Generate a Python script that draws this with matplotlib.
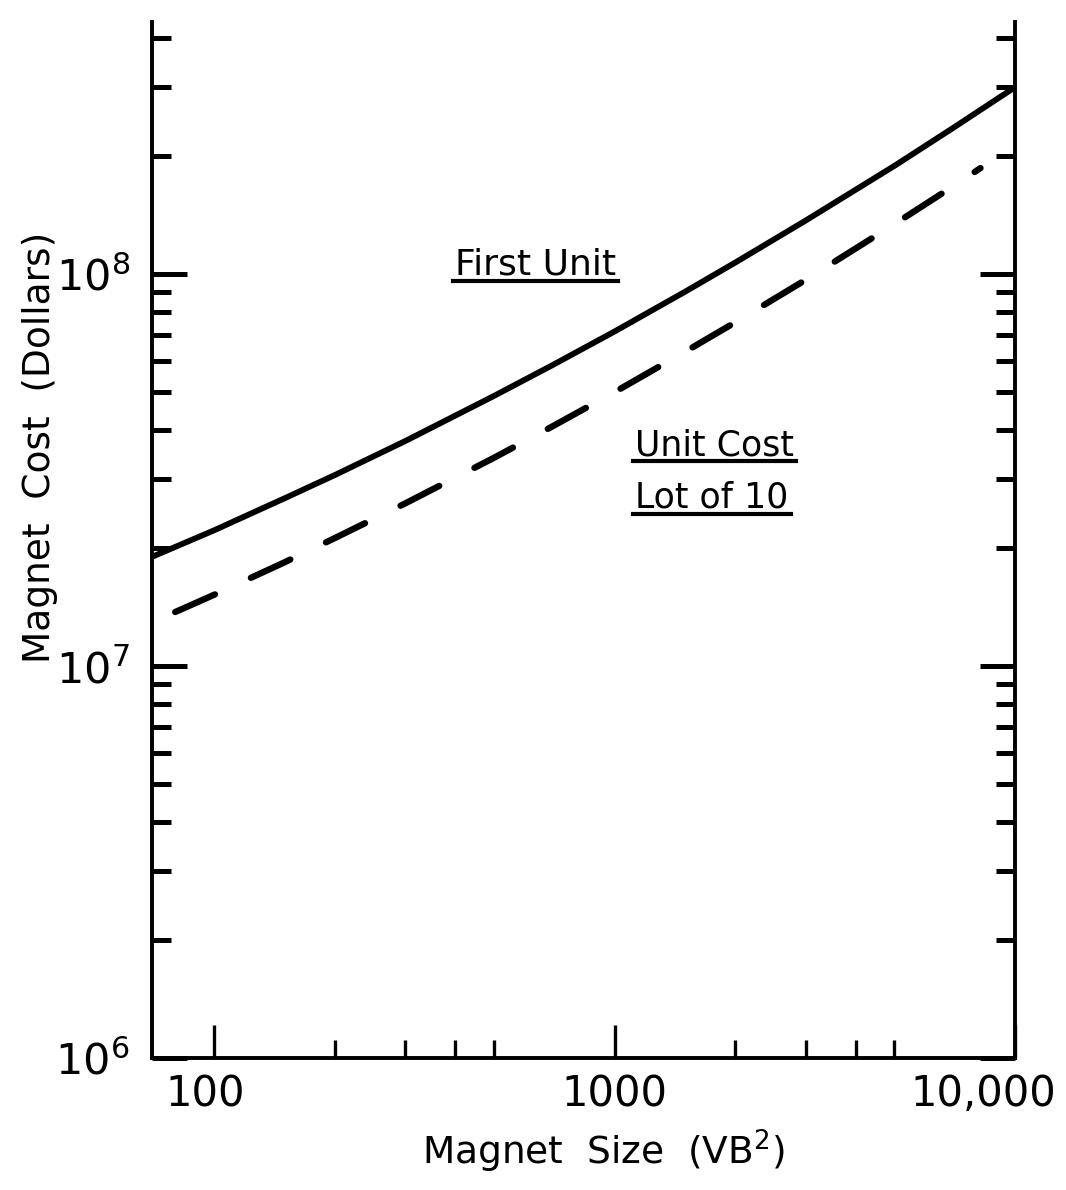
import matplotlib
matplotlib.use("Agg")
import matplotlib.pyplot as plt
from matplotlib.ticker import FixedLocator, NullFormatter
from matplotlib.transforms import ScaledTranslation
from matplotlib.lines import Line2D

# magnet size (VB^2) and cost in dollars
size_first = [70, 100, 150, 200, 300, 500, 700, 1000, 1500, 2000, 3000, 5000, 7000, 10000]
cost_first = [1.9e7, 2.22e7, 2.68e7, 3.07e7, 3.75e7, 4.89e7, 5.86e7, 7.14e7,
              9.02e7, 1.07e8, 1.37e8, 1.89e8, 2.36e8, 3.0e8]

size_lot = [80, 100, 150, 200, 300, 500, 700, 1000, 1500, 2000, 3000, 5000, 7000, 8200]
cost_lot = [1.374e7, 1.52e7, 1.84e7, 2.12e7, 2.60e7, 3.40e7, 4.09e7, 5.0e7,
            6.34e7, 7.53e7, 9.67e7, 1.342e8, 1.675e8, 1.865e8]

x_major = [100, 1000, 10000]
x_major_labels = ['100', '1000', '10,000']
x_minor = [200, 300, 400, 500, 2000, 3000, 4000, 5000]
y_major = [1e6, 1e7, 1e8]
y_major_labels = [r'$10^6$', r'$10^7$', r'$10^8$']
y_minor = [k * 10.0**e for e in (6, 7, 8) for k in range(2, 10) if k * 10.0**e <= 4.4e8]

plt.rcParams['font.family'] = ['DejaVu Sans']
plt.rcParams['mathtext.fontset'] = 'dejavusans'

W, H = 1066, 1190
fig = plt.figure(figsize=(W / 100, H / 100), dpi=100)
ax = fig.add_axes([152 / W, 1 - 1058 / H, 863 / W, 1036 / H])

ax.plot(size_first, cost_first, color='black', lw=4.2, solid_capstyle='round',
        solid_joinstyle='round')
ax.plot(size_lot, cost_lot, color='black', lw=4.6, dashes=(6.8, 6.2),
        dash_capstyle='round')

ax.set_xscale('log')
ax.set_yscale('log')
ax.set_xlim(70, 10000)
ax.set_ylim(1e6, 4.4e8)

ax.spines['top'].set_visible(False)
for s in ('left', 'right', 'bottom'):
    ax.spines[s].set_linewidth(2.8)

ax.set_xticks(x_major, x_major_labels)
ax.xaxis.set_minor_locator(FixedLocator(x_minor))
ax.xaxis.set_minor_formatter(NullFormatter())
ax.set_yticks(y_major, y_major_labels)
ax.yaxis.set_minor_locator(FixedLocator(y_minor))
ax.yaxis.set_minor_formatter(NullFormatter())

ax.tick_params(which='both', direction='in', top=False, right=True)
ax.tick_params(axis='x', which='major', length=24, width=2.4, pad=11, labelsize=30)
ax.tick_params(axis='x', which='minor', length=13, width=2.4)
ax.tick_params(axis='y', which='major', length=25, width=3.6, pad=16, labelsize=31)
ax.tick_params(axis='y', which='minor', length=14, width=3.6)

for lab, dx in zip(ax.get_xticklabels(), [-9, 0, -32]):
    lab.set_transform(lab.get_transform() + ScaledTranslation(dx / 100, 0, fig.dpi_scale_trans))

fig.text(603 / W, 1 - 1165 / H, r'Magnet  Size  (VB$^2$)', fontsize=27,
         ha='center', va='baseline')
fig.text(40 / W, 1 - 447 / H, 'Magnet  Cost  (Dollars)', fontsize=27,
         ha='center', va='center', rotation=90)

notes = [
    ax.text(0.444, 0.756, 'First Unit', fontsize=26, ha='center', va='baseline',
            transform=ax.transAxes),
    ax.text(0.560, 0.582, 'Unit Cost', fontsize=25, ha='left', va='baseline',
            transform=ax.transAxes),
    ax.text(0.560, 0.531, 'Lot of 10', fontsize=25, ha='left', va='baseline',
            transform=ax.transAxes),
]

# underline each note
fig.canvas.draw()
renderer = fig.canvas.get_renderer()
inv = fig.transFigure.inverted()
for t in notes:
    bb = t.get_window_extent(renderer)
    (x0, y0), (x1, _) = inv.transform([(bb.x0 - 2, bb.y0 + 1), (bb.x1 + 2, bb.y0 + 1)])
    fig.add_artist(Line2D([x0, x1], [y0, y0], color='black', lw=3.0,
                          transform=fig.transFigure))

fig.savefig('out.png', dpi=100, facecolor='white')
